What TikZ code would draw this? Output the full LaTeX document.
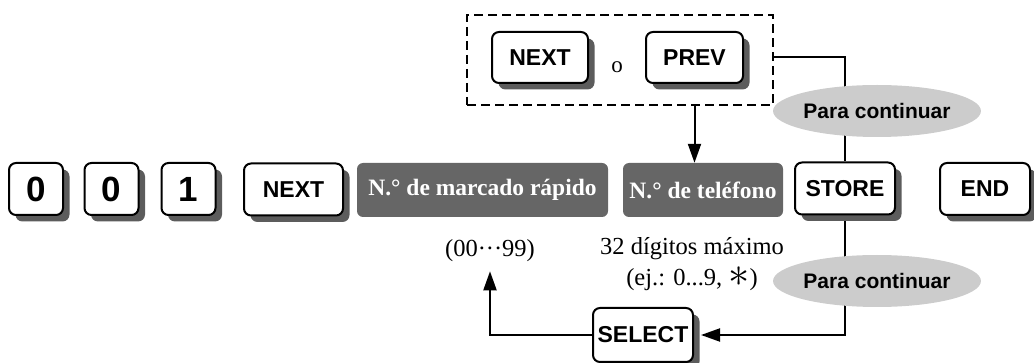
\documentclass[tikz,border=0pt]{standalone}
\usepackage{fontspec}
\setmainfont{Liberation Serif}
\setsansfont{Liberation Sans}
\usetikzlibrary{positioning,arrows.meta,shapes.geometric,shadows,backgrounds,calc}
\definecolor{sombra}{HTML}{5C5C5C}
\definecolor{grisCampo}{HTML}{666666}
\definecolor{grisGlobo}{HTML}{CCCCCC}
\tikzset{
  tecla/.style={draw=black,line width=2pt,rounded corners=7pt,fill=white,inner sep=2pt,
    font=\sffamily\bfseries\fontsize{23}{27}\selectfont,minimum height=52pt,
    drop shadow={shadow xshift=6.5pt,shadow yshift=-6.5pt,fill=sombra,opacity=1}},
  digito/.style={tecla,font=\sffamily\bfseries\fontsize{35}{40}\selectfont,minimum width=54pt},
  campo/.style={fill=grisCampo,rounded corners=6pt,text=white,inner sep=3pt,
    font=\bfseries\fontsize{23.5}{28}\selectfont,minimum height=54pt},
  globo/.style={ellipse,fill=grisGlobo,inner sep=0pt,minimum width=167pt,minimum height=52pt,
    font=\sffamily\bfseries\fontsize{21}{25}\selectfont},
  opcion/.style={draw=black,line width=2.3pt,dash pattern=on 9pt off 5pt},
  nota/.style={font=\fontsize{24.5}{31}\selectfont,align=center,inner sep=0pt},
  linea/.style={line width=2pt},
  flecha/.style={line width=2pt,-{Triangle[length=19pt,width=13pt]}},
}
\newcommand{\asterisco}{\raisebox{-1.5pt}{\scalebox{1.7}{$\ast$}}}
\begin{document}
\begin{tikzpicture}[x=1pt,y=-1pt]
  \useasboundingbox (0,0) rectangle (1034,363);
  % fila principal
  \node[digito] (cero1) at (36,189) {0};
  \node[digito] (cero2) at (111.5,189) {0};
  \node[digito] (uno) at (188.5,189) {1};
  \node[tecla,minimum width=99pt] (next) at (293.5,189.5) {NEXT};
  \node[campo,minimum width=251pt] (rapido) at (482.5,190) {N.° de marcado rápido};
  \node[campo,minimum width=160pt] (telefono) at (703,190) {N.° de teléfono};
  \node[tecla,minimum width=100pt] (store) at (845,188.5) {STORE};
  \node[tecla,minimum width=90pt] (fin) at (985,189) {END};
  % opciones de arriba
  \node[opcion,minimum width=306pt,minimum height=90pt] (opciones) at (620,60) {};
  \node[tecla,minimum width=96pt,minimum height=51pt] (sig) at (540,57.5) {NEXT};
  \node[font=\fontsize{23}{27}\selectfont,inner sep=0pt] (o) at (617,67.5) {o};
  \node[tecla,minimum width=97pt,minimum height=51pt] (ant) at (694.5,57.5) {PREV};
  % notas y lazo de abajo
  \node[nota] (rango) at (490,251) {(00···99)};
  \node[nota] (digitos) at (692,264) {32 dígitos máximo\\(ej.: 0...9, \asterisco)};
  \node[tecla,minimum width=100pt,minimum height=54pt] (select) at (643,335) {SELECT};
  \node[globo] (seguir1) at (877,111) {Para continuar};
  \node[globo] (seguir2) at (877,281) {Para continuar};
  \begin{scope}[on background layer]
    \draw[linea] (opciones.east |- ant.east) -| (store.north);
    \draw[flecha] (opciones.south -| ant) -- (telefono.north -| ant);
    \draw[flecha,shorten >=7pt] (store.south) |- (select.east);
    \draw[flecha,shorten >=9pt] (select.west) -| (rango.south);
  \end{scope}
\end{tikzpicture}
\end{document}
